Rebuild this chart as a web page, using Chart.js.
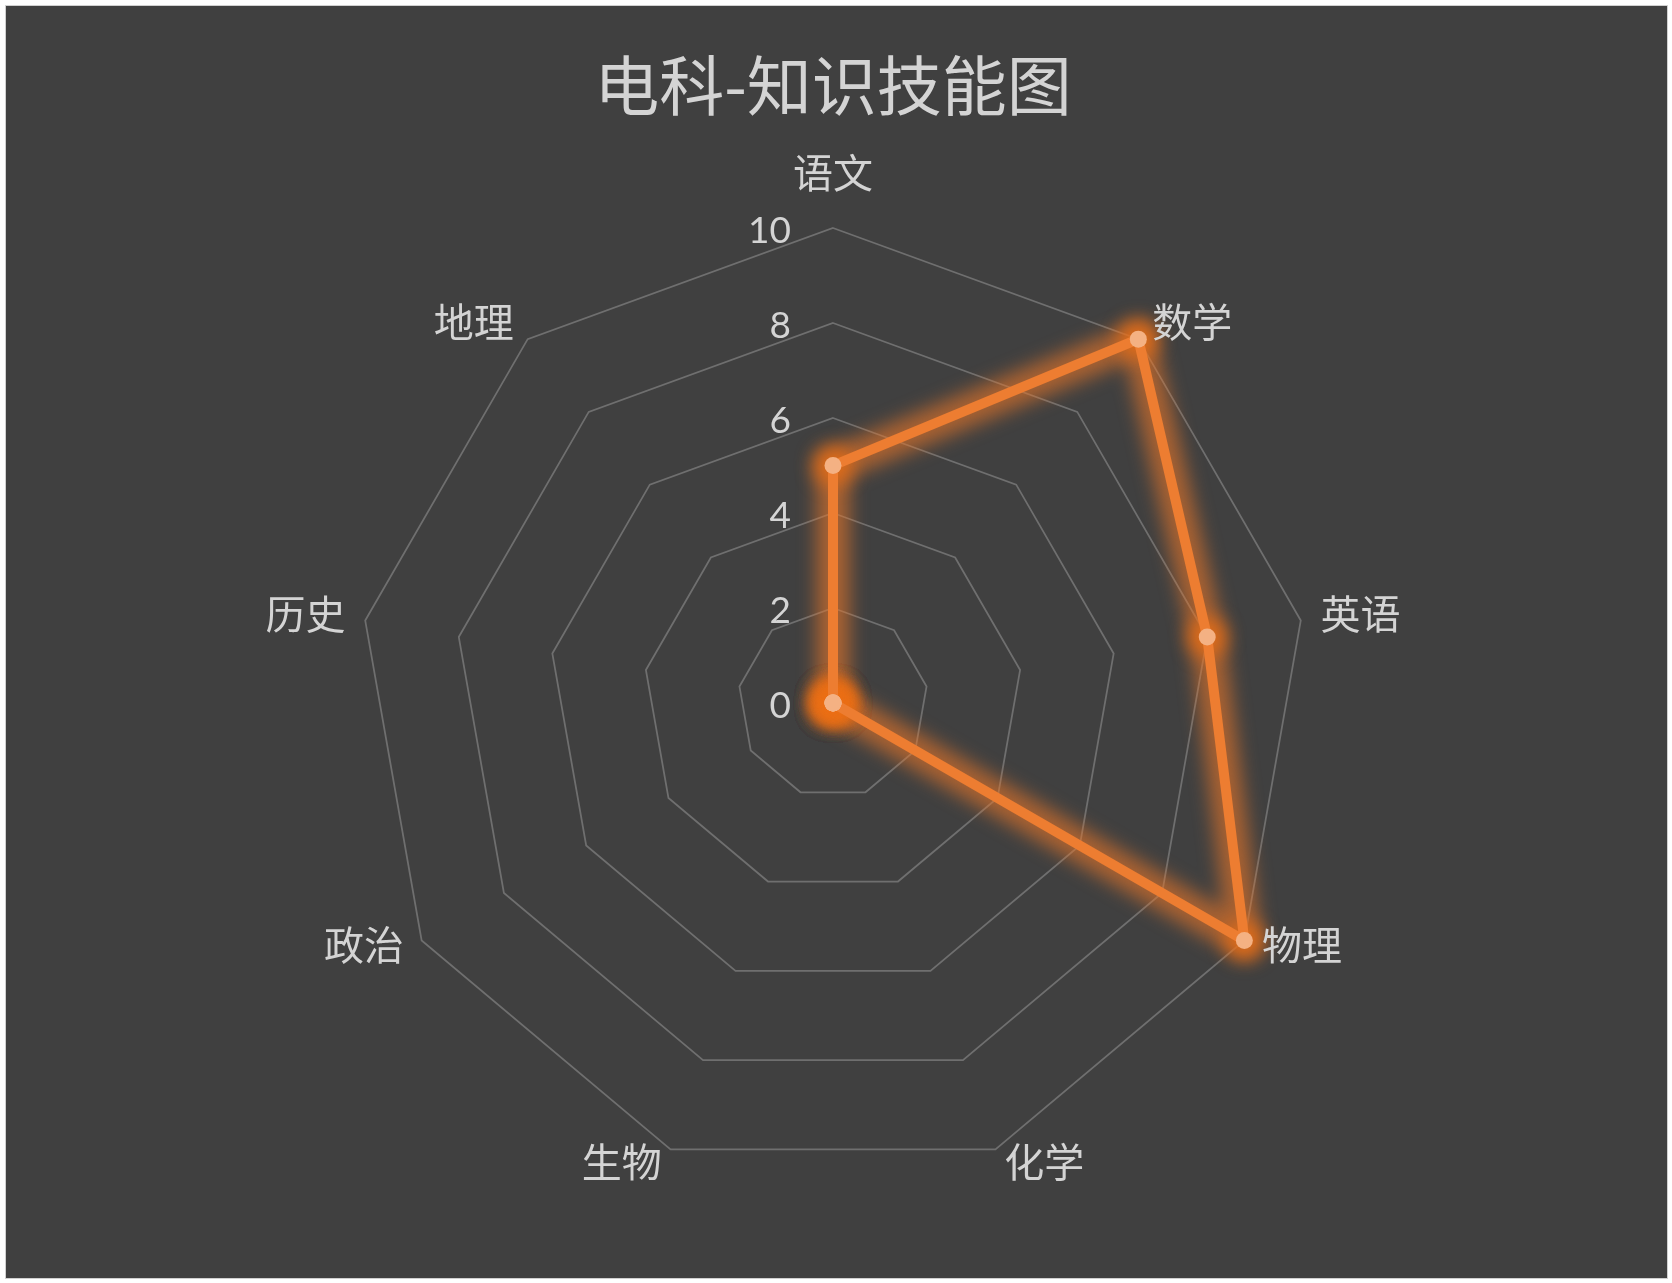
<!DOCTYPE html>
<html>
<head>
<meta charset="utf-8">
<script src="https://cdn.jsdelivr.net/npm/chart.js@4/dist/chart.umd.min.js"></script>
<style>
  html, body { margin: 0; padding: 0; background: #ffffff; }
  #c { display: block; }
</style>
</head>
<body>
<canvas id="c" width="1672" height="1283"></canvas>
<script>
const chartTitle = '电科-知识技能图';
const categories = ['语文', '数学', '英语', '物理', '化学', '生物', '政治', '历史', '地理'];
const scores = [5, 10, 8, 10, 0, 0, 0, 0, 0];
const scaleMin = 0;
const scaleMax = 10;
const scaleStep = 2;

const textColor = '#d4d4d4';
const cjkFont = "'Noto Sans CJK SC', 'Noto Sans', sans-serif";
const numFont = "Lato, 'Noto Sans', sans-serif";

const framePlugin = {
  id: 'frame',
  beforeDraw(chart) {
    const ctx = chart.ctx;
    ctx.save();
    ctx.fillStyle = '#ffffff';
    ctx.fillRect(0, 0, chart.width, chart.height);
    ctx.strokeStyle = '#d0d0d0';
    ctx.lineWidth = 1;
    ctx.strokeRect(5.5, 5.5, chart.width - 10, chart.height - 10);
    ctx.fillStyle = '#404040';
    ctx.fillRect(6, 6, chart.width - 11, chart.height - 11);
    ctx.restore();
  }
};

const glowPlugin = {
  id: 'glow',
  beforeDatasetDraw(chart, args) {
    const ctx = chart.ctx;
    const pts = args.meta.data;
    if (!pts.length) return;
    ctx.save();
    ctx.filter = 'blur(9px)';
    ctx.strokeStyle = 'rgba(232,118,40,0.62)';
    ctx.lineWidth = 34;
    ctx.lineJoin = 'round';
    ctx.beginPath();
    pts.forEach((p, i) => { if (i === 0) ctx.moveTo(p.x, p.y); else ctx.lineTo(p.x, p.y); });
    ctx.closePath();
    ctx.stroke();
    ctx.fillStyle = 'rgba(235,110,20,0.8)';
    pts.forEach(p => {
      ctx.beginPath();
      ctx.arc(p.x, p.y, 20, 0, Math.PI * 2);
      ctx.fill();
    });
    ctx.restore();
  }
};

const labelsPlugin = {
  id: 'radarLabels',
  afterDraw(chart) {
    const scale = chart.scales.r;
    const ctx = chart.ctx;
    const r = scale.drawingArea;
    ctx.save();
    ctx.fillStyle = textColor;
    ctx.font = '37px ' + numFont;
    ctx.textAlign = 'right';
    ctx.textBaseline = 'middle';
    scale.ticks.forEach(t => {
      const p = scale.getPointPositionForValue(0, t.value);
      ctx.fillText(String(t.value), p.x - 42, p.y + 3);
    });
    ctx.font = '40px ' + cjkFont;
    categories.forEach((name, i) => {
      const p = scale.getPointPosition(i, r + 17);
      const dx = p.x - scale.xCenter;
      ctx.textBaseline = 'middle';
      if (Math.abs(dx) < 1) {
        ctx.textAlign = 'center';
        ctx.fillText(name, p.x, p.y - 38);
      } else if (dx > 0) {
        ctx.textAlign = 'left';
        ctx.fillText(name, p.x + 3, p.y - 4);
      } else {
        ctx.textAlign = 'right';
        ctx.fillText(name, p.x - 3, p.y - 4);
      }
    });
    ctx.restore();
  }
};

new Chart(document.getElementById('c'), {
  type: 'radar',
  data: {
    labels: categories,
    datasets: [{
      label: chartTitle,
      data: scores,
      borderColor: '#ED7D31',
      borderWidth: 10,
      borderJoinStyle: 'round',
      backgroundColor: 'rgba(0,0,0,0)',
      fill: false,
      tension: 0,
      pointRadius: 8.5,
      pointBorderWidth: 0,
      pointBackgroundColor: '#F4B183',
      pointBorderColor: '#F4B183'
    }]
  },
  options: {
    responsive: false,
    animation: false,
    devicePixelRatio: 1,
    layout: { padding: { left: 358, right: 364, top: 0, bottom: 105 } },
    plugins: {
      legend: { display: false },
      tooltip: { enabled: false },
      title: {
        display: true,
        text: chartTitle,
        color: textColor,
        font: { size: 65, family: cjkFont, weight: 'normal', lineHeight: 1.2 },
        padding: { top: 46, bottom: 104 }
      }
    },
    scales: {
      r: {
        min: scaleMin,
        max: scaleMax,
        beginAtZero: true,
        ticks: { stepSize: scaleStep, display: false },
        grid: { color: '#6f6f6f', lineWidth: 1.75 },
        angleLines: { display: false },
        pointLabels: { display: false }
      }
    }
  },
  plugins: [framePlugin, glowPlugin, labelsPlugin]
});
</script>
</body>
</html>
